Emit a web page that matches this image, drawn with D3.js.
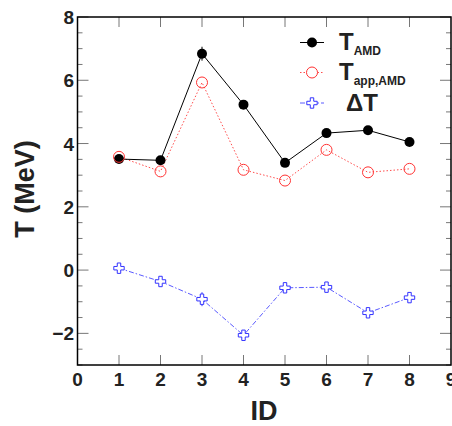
<!DOCTYPE html>
<html>
<head>
<meta charset="utf-8">
<script src="https://cdn.jsdelivr.net/npm/d3@7"></script>
<style>
  body { margin: 0; background: #fff; }
  svg { display: block; font-family: "Liberation Sans", Arial, sans-serif; }
</style>
</head>
<body>
<div></div>
<script>
const ids = [1, 2, 3, 4, 5, 6, 7, 8];
const tAMD = [3.51, 3.47, 6.84, 5.23, 3.39, 4.33, 4.42, 4.05];
const tAMDErr = [0.08, 0.06, 0.22, 0.08, 0.06, 0.06, 0.06, 0.06];
const tApp = [3.58, 3.12, 5.93, 3.17, 2.83, 3.80, 3.09, 3.20];
const deltaT = [0.06, -0.36, -0.92, -2.06, -0.56, -0.54, -1.35, -0.87];
const deltaErr = [0.06, 0.08, 0.22, 0.16, 0.08, 0.08, 0.1, 0.08];
const xTicks = [0, 1, 2, 3, 4, 5, 6, 7, 8, 9];
const yTicks = [-2, 0, 2, 4, 6, 8];

const width = 452;
const height = 426;

const svg = d3
  .select("div")
  .append("svg")
  .attr("width", width)
  .attr("height", height);

const x = d3.scaleLinear().domain([0, 9]).range([77.5, 451]);
const y = d3.scaleLinear().domain([-3, 8]).range([365, 17]);

// minor & major ticks, drawn inward on all four sides
const tickColor = "#777";
const yMinor = d3.range(-3, 8.01, 0.5).filter((v) => v % 2 !== 0);
const g = svg.append("g");

yTicks.forEach((v) => {
  g.append("line").attr("x1", x(0)).attr("x2", x(0) + 11)
    .attr("y1", y(v)).attr("y2", y(v)).attr("stroke", tickColor);
  g.append("line").attr("x1", x(9)).attr("x2", x(9) - 11)
    .attr("y1", y(v)).attr("y2", y(v)).attr("stroke", tickColor);
});
yMinor.forEach((v) => {
  g.append("line").attr("x1", x(0)).attr("x2", x(0) + 5)
    .attr("y1", y(v)).attr("y2", y(v)).attr("stroke", tickColor);
  g.append("line").attr("x1", x(9)).attr("x2", x(9) - 5)
    .attr("y1", y(v)).attr("y2", y(v)).attr("stroke", tickColor);
});
ids.forEach((v) => {
  g.append("line").attr("x1", x(v)).attr("x2", x(v))
    .attr("y1", y(-3)).attr("y2", y(-3) - 10).attr("stroke", tickColor);
  g.append("line").attr("x1", x(v)).attr("x2", x(v))
    .attr("y1", y(8)).attr("y2", y(8) + 10).attr("stroke", tickColor);
});

// frame
svg.append("rect")
  .attr("x", x(0)).attr("y", y(8))
  .attr("width", x(9) - x(0)).attr("height", y(-3) - y(8))
  .attr("fill", "none").attr("stroke", "#000").attr("stroke-width", 1.5);

// tick labels
svg.append("g").selectAll("text").data(yTicks).enter().append("text")
  .attr("x", 74).attr("y", (d) => y(d) + 7)
  .attr("text-anchor", "end")
  .attr("font-size", 19).attr("font-weight", "bold").attr("fill", "#222")
  .text((d) => (d < 0 ? "\u2212" + Math.abs(d) : d));

svg.append("g").selectAll("text").data(xTicks).enter().append("text")
  .attr("x", (d) => x(d)).attr("y", 386)
  .attr("text-anchor", "middle")
  .attr("font-size", 19).attr("font-weight", "bold").attr("fill", "#222")
  .text((d) => d);

// axis titles
svg.append("text")
  .attr("transform", "translate(34,189) rotate(-90)")
  .attr("text-anchor", "middle")
  .attr("font-size", 27).attr("font-weight", "bold").attr("fill", "#222")
  .text("T (MeV)");

svg.append("text")
  .attr("x", 264).attr("y", 420)
  .attr("text-anchor", "middle")
  .attr("font-size", 27).attr("font-weight", "bold").attr("fill", "#222")
  .text("ID");

const line = d3.line().x((d) => x(d[0])).y((d) => y(d[1]));

// T_app,AMD (red dotted, open circles)
svg.append("path")
  .attr("d", line(ids.map((d, i) => [d, tApp[i]])))
  .attr("fill", "none").attr("stroke", "#ff4d4d").attr("stroke-width", 1)
  .attr("stroke-dasharray", "1.5,2");

// T_AMD (black solid, filled circles)
svg.append("path")
  .attr("d", line(ids.map((d, i) => [d, tAMD[i]])))
  .attr("fill", "none").attr("stroke", "#000").attr("stroke-width", 1);

svg.append("g").selectAll("line").data(ids).enter().append("line")
  .attr("x1", (d) => x(d)).attr("x2", (d) => x(d))
  .attr("y1", (d, i) => y(tAMD[i] - tAMDErr[i]))
  .attr("y2", (d, i) => y(tAMD[i] + tAMDErr[i]))
  .attr("stroke", "#000").attr("stroke-width", 1);

svg.append("g").selectAll("circle").data(ids).enter().append("circle")
  .attr("cx", (d) => x(d)).attr("cy", (d, i) => y(tAMD[i]))
  .attr("r", 5).attr("fill", "#000");

svg.append("g").selectAll("circle").data(ids).enter().append("circle")
  .attr("cx", (d) => x(d)).attr("cy", (d, i) => y(tApp[i]))
  .attr("r", 5.5).attr("fill", "none")
  .attr("stroke", "#ff3333").attr("stroke-width", 1);

// Delta T (blue dash-dot, open crosses)
svg.append("path")
  .attr("d", line(ids.map((d, i) => [d, deltaT[i]])))
  .attr("fill", "none").attr("stroke", "#5a5aff").attr("stroke-width", 1)
  .attr("stroke-dasharray", "5,2,1.5,2");

svg.append("g").selectAll("line").data(ids).enter().append("line")
  .attr("x1", (d) => x(d)).attr("x2", (d) => x(d))
  .attr("y1", (d, i) => y(deltaT[i] - deltaErr[i]))
  .attr("y2", (d, i) => y(deltaT[i] + deltaErr[i]))
  .attr("stroke", "#3333ff").attr("stroke-width", 1);

const cross = d3.symbol().type(d3.symbolCross).size(60);
svg.append("g").selectAll("path").data(ids).enter().append("path")
  .attr("d", cross)
  .attr("transform", (d, i) => "translate(" + x(d) + "," + y(deltaT[i]) + ")")
  .attr("fill", "#fff").attr("stroke", "#3333ff").attr("stroke-width", 1);

// legend
const legend = svg.append("g").attr("id", "legend");
const rows = [
  { y: 42.5, main: "T", sub: "AMD", tx: 339 },
  { y: 72.5, main: "T", sub: "app,AMD", tx: 339 },
  { y: 103, main: "\u0394T", sub: "", tx: 346 }
];

legend.append("line").attr("x1", 300).attr("x2", 324)
  .attr("y1", rows[0].y).attr("y2", rows[0].y).attr("stroke", "#000");
legend.append("circle").attr("cx", 312).attr("cy", rows[0].y)
  .attr("r", 5).attr("fill", "#000");

legend.append("line").attr("x1", 300).attr("x2", 324)
  .attr("y1", rows[1].y).attr("y2", rows[1].y)
  .attr("stroke", "#ff4d4d").attr("stroke-dasharray", "1.5,2");
legend.append("circle").attr("cx", 312).attr("cy", rows[1].y)
  .attr("r", 5.5).attr("fill", "#fff").attr("stroke", "#ff3333");

legend.append("line").attr("x1", 300).attr("x2", 324)
  .attr("y1", rows[2].y).attr("y2", rows[2].y)
  .attr("stroke", "#5a5aff").attr("stroke-dasharray", "5,2,1.5,2");
legend.append("path").attr("d", cross)
  .attr("transform", "translate(312," + rows[2].y + ")")
  .attr("fill", "#fff").attr("stroke", "#3333ff");

rows.forEach((r) => {
  const t = legend.append("text")
    .attr("x", r.tx).attr("y", r.y + 7.5)
    .attr("font-size", 24).attr("font-weight", "bold").attr("fill", "#222");
  t.append("tspan").text(r.main);
  if (r.sub) {
    t.append("tspan").attr("dy", 5)
      .attr("font-size", 12).text(r.sub);
  }
});
</script>
</body>
</html>
